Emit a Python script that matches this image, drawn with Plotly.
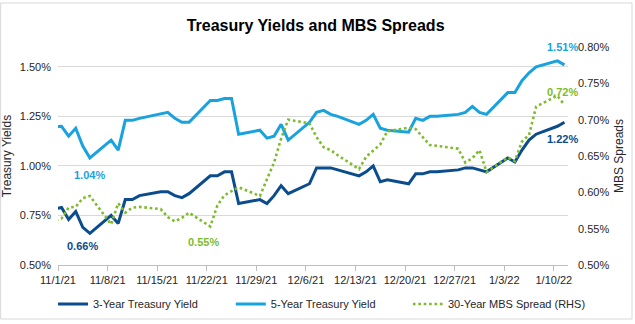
import plotly.graph_objects as go

dates = ["2021-10-29", "2021-11-01", "2021-11-02", "2021-11-03", "2021-11-04", "2021-11-05",
         "2021-11-08", "2021-11-09", "2021-11-10", "2021-11-11", "2021-11-12",
         "2021-11-15", "2021-11-16", "2021-11-17", "2021-11-18", "2021-11-19",
         "2021-11-22", "2021-11-23", "2021-11-24", "2021-11-25", "2021-11-26",
         "2021-11-29", "2021-11-30", "2021-12-01", "2021-12-02", "2021-12-03",
         "2021-12-06", "2021-12-07", "2021-12-08", "2021-12-09", "2021-12-10",
         "2021-12-13", "2021-12-14", "2021-12-15", "2021-12-16", "2021-12-17",
         "2021-12-20", "2021-12-21", "2021-12-22", "2021-12-23", "2021-12-24",
         "2021-12-27", "2021-12-28", "2021-12-29", "2021-12-30", "2021-12-31",
         "2022-01-03", "2022-01-04", "2022-01-05", "2022-01-06", "2022-01-07",
         "2022-01-10", "2022-01-11"]

yield_3y = [0.77, 0.79, 0.73, 0.77, 0.69, 0.66,
            0.75, 0.71, 0.83, 0.83, 0.85,
            0.87, 0.87, 0.85, 0.84, 0.86,
            0.95, 0.95, 0.97, 0.97, 0.81,
            0.83, 0.81, 0.85, 0.90, 0.86,
            0.91, 0.99, 0.99, 0.99, 0.98,
            0.95, 0.97, 1.00, 0.92, 0.93,
            0.91, 0.96, 0.96, 0.97, 0.97,
            0.98, 0.99, 0.99, 0.98, 0.97,
            1.04, 1.02, 1.08, 1.13, 1.16,
            1.20, 1.22]

yield_5y = [1.19, 1.20, 1.15, 1.19, 1.10, 1.04,
            1.13, 1.08, 1.23, 1.23, 1.24,
            1.26, 1.27, 1.24, 1.22, 1.22,
            1.33, 1.33, 1.34, 1.34, 1.16,
            1.18, 1.14, 1.15, 1.21, 1.13,
            1.22, 1.27, 1.28, 1.26, 1.25,
            1.21, 1.23, 1.26, 1.19, 1.18,
            1.17, 1.24, 1.23, 1.25, 1.25,
            1.26, 1.27, 1.30, 1.27, 1.26,
            1.37, 1.37, 1.43, 1.47, 1.50,
            1.53, 1.51]

mbs_spread = [0.555, 0.564, 0.579, 0.580, 0.592, 0.595,
              0.556, 0.585, 0.572, 0.579, 0.580,
              0.577, 0.566, 0.560, 0.565, 0.572,
              0.553, 0.582, 0.596, 0.602, 0.607,
              0.595, 0.618, 0.641, 0.674, 0.700,
              0.695, 0.676, 0.662, 0.658, 0.651,
              0.632, 0.649, 0.658, 0.666, 0.684,
              0.689, 0.687, 0.676, 0.665, 0.664,
              0.660, 0.641, 0.647, 0.658, 0.628,
              0.648, 0.643, 0.670, 0.679, 0.718,
              0.733, 0.720]

series_names = ["3-Year Treasury Yield", "5-Year Treasury Yield", "30-Year MBS Spread (RHS)"]
tick_labels = ["11/1/21", "11/8/21", "11/15/21", "11/22/21", "11/29/21", "12/6/21",
               "12/13/21", "12/20/21", "12/27/21", "1/3/22", "1/10/22"]
tick_dates = ["2021-10-31 12:00", "2021-11-07 12:00", "2021-11-14 12:00", "2021-11-21 12:00",
              "2021-11-28 12:00", "2021-12-05 12:00", "2021-12-12 12:00", "2021-12-19 12:00",
              "2021-12-26 12:00", "2022-01-02 12:00", "2022-01-09 12:00"]
left_ticks = [0.5, 0.75, 1.0, 1.25, 1.5]
right_ticks = [0.5, 0.55, 0.6, 0.65, 0.7, 0.75, 0.8]

NAVY = "#0b4c8c"
LIGHT = "#19a3de"
GREEN = "#7dbb2a"
FONT = "Liberation Sans, Arial, sans-serif"

fig = go.Figure()
fig.add_trace(go.Scatter(x=dates, y=yield_3y, name=series_names[0], mode="lines",
                         legend="legend", showlegend=True, line=dict(color=NAVY, width=3)))
fig.add_trace(go.Scatter(x=dates, y=yield_5y, name=series_names[1], mode="lines",
                         legend="legend2", showlegend=True, line=dict(color=LIGHT, width=3)))
fig.add_trace(go.Scatter(x=dates, y=mbs_spread, name=series_names[2], mode="lines", yaxis="y2",
                         legend="legend3", showlegend=True,
                         line=dict(color=GREEN, width=2.6, dash="2.6px,2.8px")))

def ann(date, series, color, yref="y", xshift=0, yshift=0):
    v = series[dates.index(date)]
    return dict(x=date, y=v, xref="x", yref=yref, text=f"{v:.2f}%", showarrow=False,
                xshift=xshift, yshift=yshift,
                font=dict(family=FONT, size=11, color=color, weight="bold"))

annotations = [
    ann("2021-11-05", yield_5y, LIGHT, yshift=-17),
    ann("2021-11-05", yield_3y, NAVY, xshift=-7, yshift=-13),
    ann("2021-11-22", mbs_spread, GREEN, yref="y2", xshift=-7, yshift=-16),
    ann("2022-01-11", yield_5y, LIGHT, xshift=-2, yshift=18),
    ann("2022-01-11", mbs_spread, GREEN, yref="y2", xshift=-2, yshift=13),
    ann("2022-01-11", yield_3y, NAVY, xshift=-2, yshift=-17),
]

def leg(x):
    return dict(orientation="h", x=x, xanchor="left", y=-0.179, yanchor="middle",
                font=dict(size=11, color="#262626"), bgcolor="rgba(0,0,0,0)", visible=True)

fig.update_layout(
    width=635, height=324,
    showlegend=True,
    margin=dict(l=58, r=67, t=47, b=59, autoexpand=False),
    paper_bgcolor="white", plot_bgcolor="white",
    font=dict(family=FONT, size=11, color="#262626"),
    title=dict(text="<b>Treasury Yields and MBS Spreads</b>", x=0.497, xanchor="center",
               y=0.923, yanchor="middle", yref="container",
               font=dict(family=FONT, size=16, color="black")),
    xaxis=dict(type="date", range=["2021-10-31 12:00", "2022-01-11 12:00"],
               tickvals=tick_dates, ticktext=tick_labels, tickangle=0,
               showline=True, linecolor="#bfbfbf", linewidth=1,
               ticks="outside", ticklen=5, tickcolor="#bfbfbf",
               showgrid=False, zeroline=False,
               tickfont=dict(size=11, color="#262626")),
    yaxis=dict(range=[0.5, 1.6], tickvals=left_ticks,
               ticktext=[f"{v:.2f}%" for v in left_ticks],
               showgrid=True, gridcolor="#d9d9d9", gridwidth=1, zeroline=False,
               showline=False, ticklabelstandoff=6,
               title=dict(text="Treasury Yields", font=dict(size=12, color="#262626"), standoff=5),
               tickfont=dict(size=11, color="#262626")),
    yaxis2=dict(range=[0.5, 0.8], tickvals=right_ticks,
                ticktext=[f"{v:.2f}%" for v in right_ticks],
                overlaying="y", side="right",
                showgrid=False, zeroline=False, showline=False, ticklabelstandoff=9,
                title=dict(text="MBS Spreads", font=dict(size=12, color="#262626"), standoff=6),
                tickfont=dict(size=11, color="#262626")),
    legend=leg(-0.0098),
    legend2=leg(0.3388),
    legend3=leg(0.6861),
    annotations=annotations,
    shapes=[dict(type="rect", xref="paper", yref="paper",
                 x0=-0.1125, x1=1.1255, y0=-0.2477, y1=1.2018,
                 line=dict(color="#d9d9d9", width=1), fillcolor="rgba(0,0,0,0)", layer="below")],
)

fig.write_html("out.html")
